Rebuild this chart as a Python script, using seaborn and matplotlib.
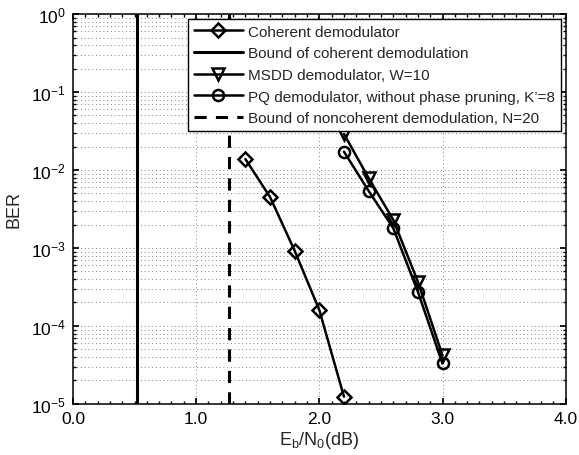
import numpy as np
import pandas as pd
import matplotlib
matplotlib.use("Agg")
import matplotlib.pyplot as plt
import seaborn as sns
from matplotlib.ticker import LogLocator, MultipleLocator, NullFormatter

# Eb/N0 (dB) points and BER
ebn0_coherent = [1.4, 1.6, 1.8, 2.0, 2.2]
ber_coherent = [1.38e-2, 4.5e-3, 9.2e-4, 1.6e-4, 1.24e-5]

ebn0_msdd = [2.2, 2.4, 2.6, 2.8, 3.0]
ber_msdd = [2.9e-2, 7.9e-3, 2.3e-3, 3.7e-4, 4.2e-5]

ebn0_pq = [2.2, 2.4, 2.6, 2.8, 3.0]
ber_pq = [1.72e-2, 5.4e-3, 1.8e-3, 2.75e-4, 3.3e-5]

bound_coherent = 0.52
bound_noncoherent = 1.27

labels = [
    "Coherent demodulator",
    "Bound of coherent demodulation",
    "MSDD demodulator, W=10",
    "PQ demodulator, without phase pruning, K\u2019=8",
    "Bound of noncoherent demodulation, N=20",
]

sns.set_theme(style="ticks")
plt.rcParams["font.family"] = ["Liberation Sans", "DejaVu Sans"]
plt.rcParams["mathtext.fontset"] = "custom"
plt.rcParams["mathtext.rm"] = "Liberation Sans"
plt.rcParams["mathtext.it"] = "Liberation Sans"

fig = plt.figure(figsize=(5.79, 4.56), dpi=100)
ax = fig.add_axes([0.126, 0.112, 0.851, 0.855])

line_kw = dict(color="black", linewidth=1.8, markerfacecolor="none",
               markeredgecolor="black", markeredgewidth=1.8)

sns.lineplot(x=ebn0_coherent, y=ber_coherent, marker="D", markersize=7,
             label=labels[0], ax=ax, **line_kw)
ax.axvline(bound_coherent, color="black", linewidth=2.2, label=labels[1])
sns.lineplot(x=ebn0_msdd, y=ber_msdd, marker="v", markersize=9,
             label=labels[2], ax=ax, **line_kw)
sns.lineplot(x=ebn0_pq, y=ber_pq, marker="o", markersize=8,
             label=labels[3], ax=ax, **line_kw)
ax.axvline(bound_noncoherent, color="black", linewidth=2.2, linestyle=(0, (4, 3)),
           label=labels[4])

ax.set_yscale("log")
ax.set_xlim(0, 4)
ax.set_ylim(1e-5, 1)
ax.xaxis.set_major_locator(MultipleLocator(1.0))
ax.xaxis.set_minor_locator(MultipleLocator(0.1))
ax.set_xticklabels([f"{v:.1f}" for v in ax.get_xticks()])
ax.yaxis.set_major_locator(LogLocator(base=10, numticks=10))
ax.yaxis.set_minor_locator(LogLocator(base=10, subs=np.arange(2, 10), numticks=20))
ax.yaxis.set_minor_formatter(NullFormatter())

grid_kw = dict(color="0.35", linestyle=(0, (1, 3.5)), linewidth=0.6)
ax.grid(True, which="major", axis="both", **grid_kw)
ax.grid(True, which="minor", axis="y", **grid_kw)

ax.tick_params(which="both", direction="in", top=True, right=True, labelsize=12.5, colors="black")
ax.tick_params(axis="x", which="major", length=4, pad=5)
ax.tick_params(axis="y", which="major", length=4, pad=5)
ax.tick_params(which="minor", length=2)
for s in ax.spines.values():
    s.set_linewidth(1.1)
    s.set_color("black")

ax.set_xlabel(r"E$_\mathregular{b}$/N$_\mathregular{0}$(dB)", fontsize=13, labelpad=2)
ax.set_ylabel("BER", fontsize=13, labelpad=6)

leg = ax.legend(loc="upper right", fontsize=11, handlelength=3.2, fancybox=False,
                framealpha=1, edgecolor="black", borderpad=0.4, labelspacing=0.5,
                borderaxespad=0.3, handletextpad=0.35)
leg.get_frame().set_linewidth(1.0)

fig.savefig("out.png", dpi=100)
